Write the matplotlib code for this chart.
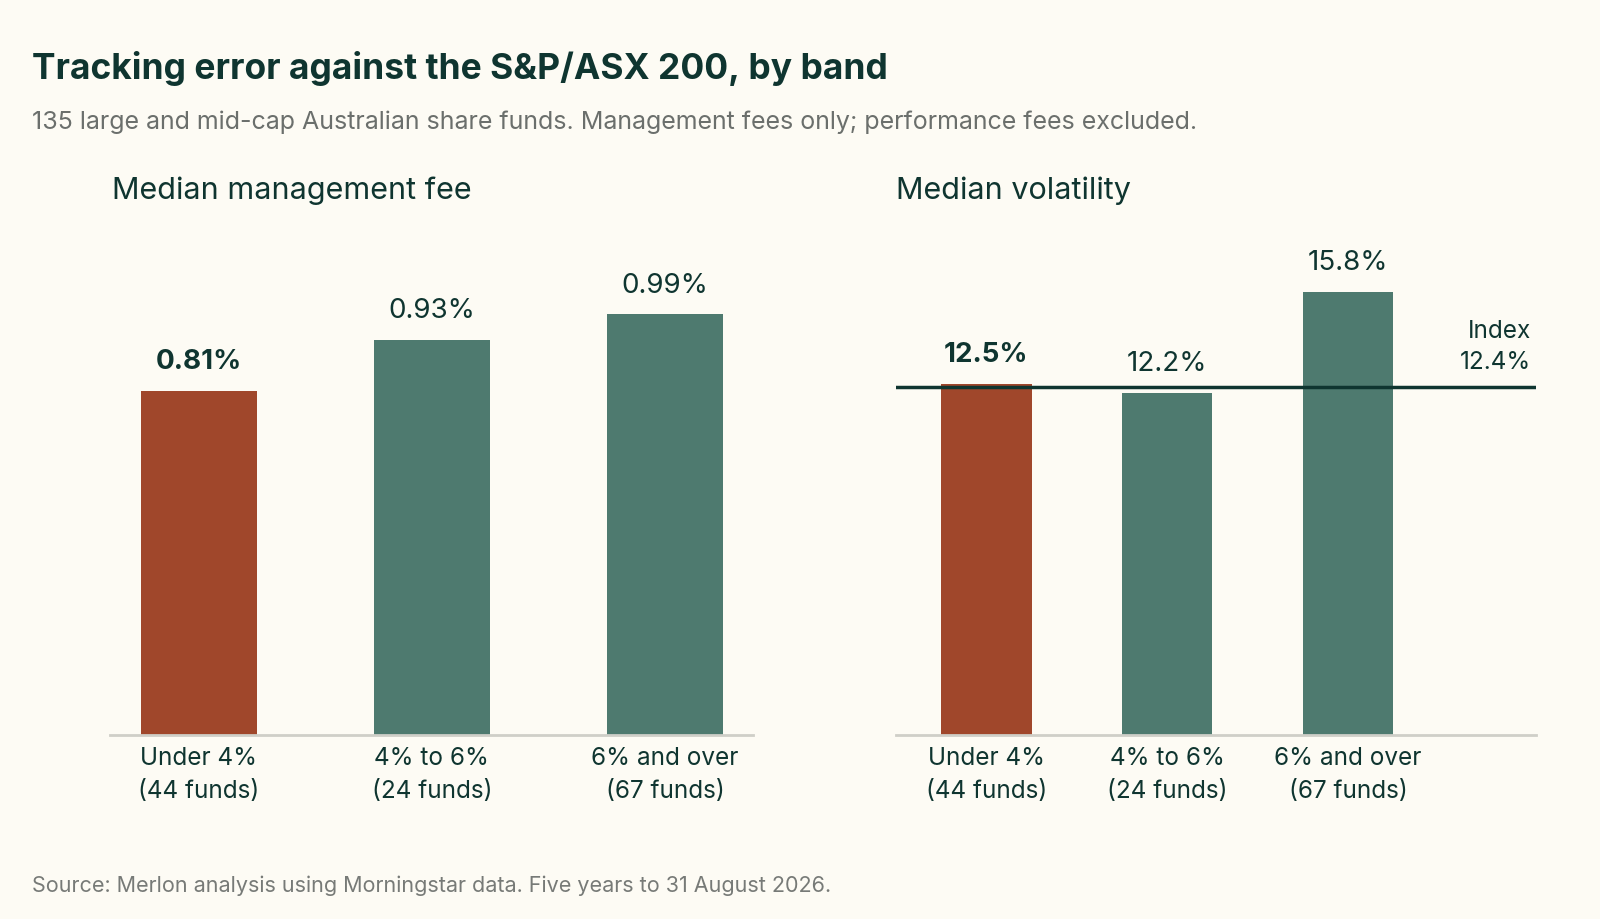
import matplotlib.pyplot as plt

plt.rcParams['font.family'] = ['Inter', 'DejaVu Sans']

bands = ['Under 4%\n(44 funds)', '4% to 6%\n(24 funds)', '6% and over\n(67 funds)']
fees = [0.81, 0.93, 0.99]
fee_labels = ['0.81%', '0.93%', '0.99%']
vols = [12.5, 12.2, 15.8]
vol_labels = ['12.5%', '12.2%', '15.8%']
index_vol = 12.4

bg = '#FDFBF4'
dark = '#0F3530'
red = '#A0472B'
green = '#4E7A6F'
colors = [red, green, green]

fig = plt.figure(figsize=(16, 9.2), dpi=100, facecolor=bg)

fig.text(0.02, 0.925, 'Tracking error against the S&P/ASX 200, by band',
         fontsize=25.5, fontweight='bold', color=dark, va='center')
fig.text(0.02, 0.867, '135 large and mid-cap Australian share funds. Management fees only; performance fees excluded.',
         fontsize=18, color='#6B6F6C', va='center')
fig.text(0.02, 0.037, 'Source: Merlon analysis using Morningstar data. Five years to 31 August 2026.',
         fontsize=15.5, color='#777A77', va='center')

ax1 = fig.add_axes([0.0689, 0.2003, 0.402, 0.5335])
ax2 = fig.add_axes([0.560, 0.2003, 0.400, 0.5335])

def style(ax):
    ax.set_facecolor(bg)
    for s in ['top', 'right', 'left']:
        ax.spines[s].set_visible(False)
    ax.spines['bottom'].set_color('#CFCFC8')
    ax.spines['bottom'].set_linewidth(2)
    ax.set_yticks([])
    ax.set_xticks(range(3))
    ax.set_xticklabels(bands, fontsize=17.5, color=dark, linespacing=1.55)
    ax.tick_params(axis='x', length=0, pad=8)

x = list(range(3))
ax1.bar(x, fees, width=0.5, color=colors)
ax1.set_xlim(-0.38, 2.38)
ax1.set_ylim(0, 1.156)
for i, (v, t) in enumerate(zip(fees, fee_labels)):
    ax1.annotate(t, (i, v), xytext=(0, 12), textcoords='offset points', ha='center',
                 va='bottom', fontsize=20, color=dark,
                 fontweight='bold' if i == 0 else 'normal')
style(ax1)
fig.text(0.0701, 0.793, 'Median management fee', fontsize=22, color=dark, va='center')

ax2.bar(x, vols, width=0.5, color=colors)
ax2.set_xlim(-0.5, 3.04)
ax2.set_ylim(0, 17.5)
ax2.axhline(index_vol, color=dark, lw=2.5)
for i, (v, t) in enumerate(zip(vols, vol_labels)):
    ax2.annotate(t, (i, v), xytext=(0, 12), textcoords='offset points', ha='center',
                 va='bottom', fontsize=20, color=dark,
                 fontweight='bold' if i == 0 else 'normal')
ax2.text(0.992, index_vol + 0.5, 'Index\n12.4%', ha='right', va='bottom', fontsize=17.5,
         color=dark, linespacing=1.45, transform=ax2.get_yaxis_transform())
style(ax2)
fig.text(0.560, 0.793, 'Median volatility', fontsize=22, color=dark, va='center')

fig.savefig('out.png', dpi=100, facecolor=bg)
